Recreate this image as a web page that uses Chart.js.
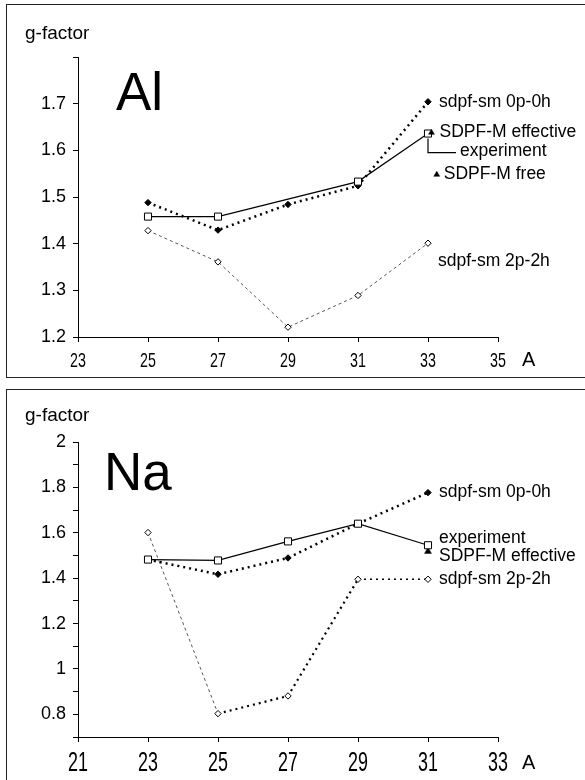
<!DOCTYPE html>
<html>
<head>
<meta charset="utf-8">
<script src="https://cdn.jsdelivr.net/npm/chart.js@4.4.1/dist/chart.umd.min.js"></script>
<style>
  body { margin: 0; background: #fff; width: 585px; height: 780px; overflow: hidden; position: relative; }
  .box { position: absolute; left: 6px; width: 640px; border: 1.5px solid #222; }
  #box1 { top: 4px; height: 372px; }
  #box2 { top: 389px; height: 420px; }
  canvas { position: absolute; left: 0; }
  #al { top: 0; }
  #na { top: 385px; }
</style>
</head>
<body>
<div class="box" id="box1"></div>
<div class="box" id="box2"></div>
<canvas id="al" width="585" height="385"></canvas>
<canvas id="na" width="585" height="395"></canvas>
<script>
  // ---- data ----
  var seriesNames = ['experiment', 'sdpf-sm 0p-0h', 'sdpf-sm 2p-2h', 'SDPF-M effective', 'SDPF-M free'];

  // Al panel
  var alA = [25, 27, 29, 31, 33];
  var alExperiment = [1.458, 1.458, null, 1.533, 1.636];
  var al0p0h = [1.488, 1.429, 1.484, 1.524, 1.704];
  var al2p2h = [1.428, 1.361, 1.221, 1.289, 1.401];
  var alEffectiveA = [33.1];
  var alEffective = [1.638];
  var alFreeA = [33.25];
  var alFree = [1.548];
  var alXRange = [23, 35];
  var alYRange = [1.2, 1.8];

  // Na panel
  var naA = [23, 25, 27, 29, 31];
  var naExperiment = [1.482, 1.478, 1.562, 1.640, 1.545];
  var na0p0h = [1.482, 1.417, 1.489, 1.640, 1.777];
  var na2p2h = [1.601, 0.803, 0.881, 1.395, 1.395];
  var naEffectiveA = [31];
  var naEffective = [1.518];
  var naXRange = [21, 33];
  var naYRange = [0.7, 2.0];

  var SANS = '"Liberation Sans", Arial, "DejaVu Sans", sans-serif';

  function pts(xs, ys) {
    return xs.map(function (x, i) { return { x: x, y: ys[i] }; })
             .filter(function (p) { return p.y !== null; });
  }

  // labels, element symbol, axis title drawn on top of the plot
  var panelText = {
    id: 'panelText',
    afterDatasetsDraw: function (chart, args, o) {
      var ctx = chart.ctx, area = chart.chartArea;
      ctx.save();
      ctx.fillStyle = '#000';
      ctx.strokeStyle = '#000';
      ctx.textAlign = 'left';
      ctx.textBaseline = 'alphabetic';
      ctx.font = '53px ' + SANS;
      ctx.fillText(o.element, o.elementAt[0], o.elementAt[1]);
      ctx.font = '19px ' + SANS;
      ctx.fillText('g-factor', o.titleAt[0], o.titleAt[1]);
      ctx.textBaseline = 'middle';
      ctx.font = '20px ' + SANS;
      ctx.fillText('A', area.right + 24, o.axisLabelY);
      ctx.font = '17.5px ' + SANS;
      o.notes.forEach(function (n) {
        var ds = chart.data.datasets.findIndex(function (d) { return d.label === n.series; });
        var p = chart.getDatasetMeta(ds).data[n.i];
        ctx.fillText(n.text, p.x + n.dx, p.y + n.dy);
      });
      if (o.bracket) {
        var b = o.bracket;
        var bi = chart.data.datasets.findIndex(function (d) { return d.label === b.series; });
        var q = chart.getDatasetMeta(bi).data[b.i];
        ctx.lineWidth = 1.2;
        ctx.beginPath();
        ctx.moveTo(q.x, q.y + 5);
        ctx.lineTo(q.x, q.y + 19);
        ctx.lineTo(q.x + 28, q.y + 19);
        ctx.stroke();
      }
      // x tick labels in a condensed face (squeezed horizontally)
      var xs = chart.scales.x;
      ctx.textAlign = 'center';
      ctx.font = o.xFont + 'px ' + SANS;
      xs.ticks.forEach(function (t) {
        ctx.save();
        ctx.translate(xs.getPixelForValue(t.value), o.xLabelY);
        ctx.scale(o.squeeze, 1);
        ctx.fillText(String(t.value), 0, 0);
        ctx.restore();
      });
      ctx.restore();
    }
  };

  function axisGrid() {
    return { drawOnChartArea: false, drawTicks: true, tickLength: 5, tickColor: '#000' };
  }

  function panel(id, cfg) {
    var ctx = document.getElementById(id).getContext('2d');
    return new Chart(ctx, {
      type: 'line',
      data: { datasets: cfg.datasets },
      plugins: [panelText],
      options: {
        responsive: false,
        animation: false,
        layout: { padding: { top: 57, right: 87, left: 0, bottom: 0 } },
        plugins: {
          legend: { display: false },
          tooltip: { enabled: false },
          panelText: cfg.text
        },
        scales: {
          x: {
            type: 'linear',
            min: cfg.xRange[0],
            max: cfg.xRange[1],
            afterFit: function (s) { s.height = cfg.xHeight; s.paddingLeft = 0; s.paddingRight = 0; },
            border: { color: '#000', width: 1 },
            grid: axisGrid(),
            ticks: {
              stepSize: 2, autoSkip: false, maxRotation: 0, color: 'rgba(0,0,0,0)',
              font: { family: SANS, size: 12 }
            }
          },
          y: {
            type: 'linear',
            min: cfg.yRange[0],
            max: cfg.yRange[1],
            afterFit: function (s) { s.width = 78; s.paddingTop = 0; s.paddingBottom = 0; },
            border: { color: '#000', width: 1 },
            grid: axisGrid(),
            ticks: {
              stepSize: 0.1, autoSkip: false, padding: 7, color: '#000',
              font: { family: SANS, size: 18 },
              callback: cfg.yLabel
            }
          }
        }
      }
    });
  }

  function triangles(label, xs, ys, r) {
    return {
      label: label, data: pts(xs, ys), showLine: false,
      pointStyle: 'triangle', pointRadius: r,
      pointBackgroundColor: '#000', pointBorderColor: '#000', pointBorderWidth: 0.5
    };
  }

  function experiment(xs, ys) {
    return {
      label: seriesNames[0], data: pts(xs, ys),
      borderColor: '#000', borderWidth: 1.2, tension: 0, fill: false,
      pointStyle: 'rect', pointRadius: 5,
      pointBackgroundColor: '#fff', pointBorderColor: '#000', pointBorderWidth: 1
    };
  }

  function full(xs, ys) {
    return {
      label: seriesNames[1], data: pts(xs, ys),
      borderColor: '#000', borderWidth: 2.5, borderDash: [2, 4], tension: 0, fill: false,
      pointStyle: 'rectRot', pointRadius: 3.2,
      pointBackgroundColor: '#000', pointBorderColor: '#000', pointBorderWidth: 1
    };
  }

  function intruder(xs, ys, segment) {
    var ds = {
      label: seriesNames[2], data: pts(xs, ys),
      borderColor: '#555', borderWidth: 1, borderDash: [3, 3], tension: 0, fill: false,
      pointStyle: 'rectRot', pointRadius: 3.2,
      pointBackgroundColor: '#fff', pointBorderColor: '#000', pointBorderWidth: 1
    };
    if (segment) ds.segment = segment;
    return ds;
  }

  panel('al', {
    xRange: alXRange, yRange: alYRange, xHeight: 48,
    yLabel: function (v) { return v > 1.75 ? '' : v.toFixed(1); },
    datasets: [
      triangles(seriesNames[3], alEffectiveA, alEffective, 3.4),
      triangles(seriesNames[4], alFreeA, alFree, 3.4),
      experiment(alA, alExperiment),
      full(alA, al0p0h),
      intruder(alA, al2p2h)
    ],
    text: {
      element: 'Al', elementAt: [116, 110], titleAt: [25, 39], axisLabelY: 360,
      xFont: 21, squeeze: 0.68, xLabelY: 361,
      notes: [
        { text: seriesNames[1], series: seriesNames[1], i: 4, dx: 11, dy: 0 },
        { text: seriesNames[3], series: seriesNames[3], i: 0, dx: 8, dy: 0 },
        { text: seriesNames[0], series: seriesNames[0], i: 3, dx: 32, dy: 18 },
        { text: seriesNames[4], series: seriesNames[4], i: 0, dx: 7, dy: 0 },
        { text: seriesNames[2], series: seriesNames[2], i: 4, dx: 10, dy: 18 }
      ],
      bracket: { series: seriesNames[0], i: 3 }
    }
  });

  panel('na', {
    xRange: naXRange, yRange: naYRange, xHeight: 43,
    yLabel: function (v) {
      var t = Math.round(v * 10);
      return (t % 2 === 0 && t >= 8) ? String(t / 10) : '';
    },
    datasets: [
      experiment(naA, naExperiment),
      triangles(seriesNames[3], naEffectiveA, naEffective, 4),
      full(naA, na0p0h),
      intruder(naA, na2p2h, {
        borderDash: function (c) { return c.p0DataIndex === 0 ? [3, 3] : [2, 4]; },
        borderWidth: function (c) { return c.p0DataIndex === 0 ? 1 : (c.p0DataIndex === 3 ? 1.5 : 2.2); },
        borderColor: function (c) { return c.p0DataIndex === 0 ? '#555' : '#000'; }
      })
    ],
    text: {
      element: 'Na', elementAt: [104, 105], titleAt: [25, 36], axisLabelY: 378,
      xFont: 28, squeeze: 0.64, xLabelY: 378,
      notes: [
        { text: seriesNames[1], series: seriesNames[1], i: 4, dx: 11, dy: 0 },
        { text: seriesNames[0], series: seriesNames[0], i: 4, dx: 11, dy: -7 },
        { text: seriesNames[3], series: seriesNames[3], i: 0, dx: 11, dy: 5 },
        { text: seriesNames[2], series: seriesNames[2], i: 4, dx: 11, dy: 0 }
      ]
    }
  });
</script>
</body>
</html>
